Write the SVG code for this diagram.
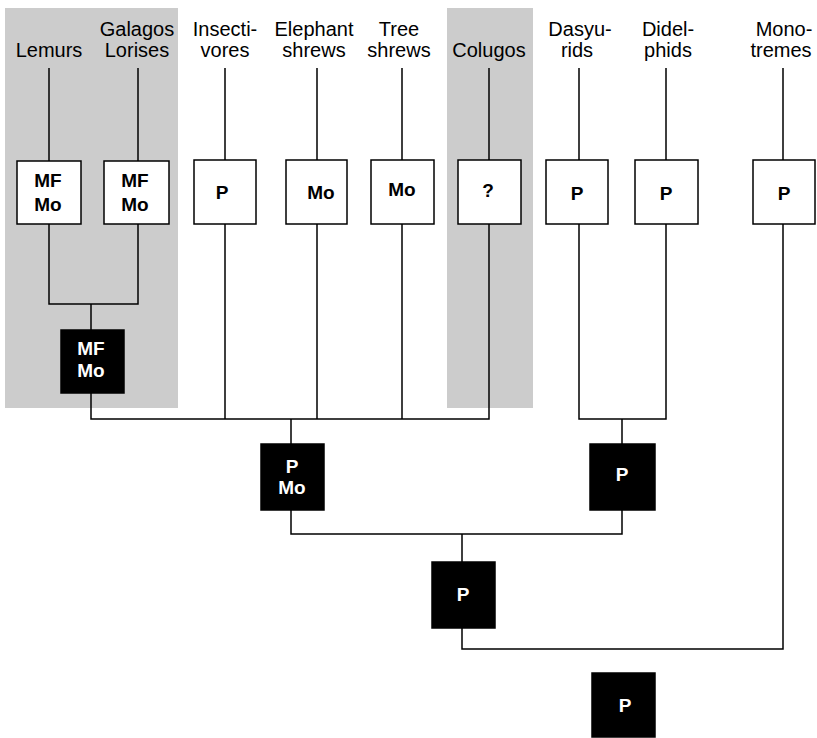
<svg xmlns="http://www.w3.org/2000/svg" width="817" height="738" viewBox="0 0 817 738">
<style>
.bg{fill:#cccccc}
.lbl{font-family:"Liberation Sans",Arial,sans-serif;font-size:20px;fill:#000;text-anchor:middle}
.wb{fill:#fff;stroke:#000;stroke-width:1.5}
.bb{fill:#000;stroke:#000;stroke-width:1.5}
.wt{font-family:"Liberation Sans",Arial,sans-serif;font-size:19px;font-weight:bold;fill:#000;text-anchor:middle}
.bt{font-family:"Liberation Sans",Arial,sans-serif;font-size:19px;font-weight:bold;fill:#fff;text-anchor:middle}
.ln{fill:none;stroke:#000;stroke-width:1.5}
</style>
<rect class="bg" x="5" y="8" width="173" height="400"/>
<rect class="bg" x="447" y="8" width="86" height="400"/>
<g id="connectors">
<path class="ln" d="M49,68V161 M138,68V161 M225,68V160 M317,68V160 M402,68V160 M489,68V160 M579,68V160 M666,68V160 M783,68V160"/>
<path class="ln" d="M49,224V304H138V224 M91,304V330"/>
<path class="ln" d="M91,393V419H489V224 M225,224V419 M317,224V419 M402,224V419 M291,419V444"/>
<path class="ln" d="M579,224V419H666V224 M622,419V444"/>
<path class="ln" d="M291,510V534H622V510 M462,534V562"/>
<path class="ln" d="M462,628V649H783V224"/>
</g>
<g id="lemurs"><text class="lbl" x="49" y="57">Lemurs</text><rect class="wb" x="17" y="161" width="64" height="63"/><text class="wt" x="48" y="187">MF</text><text class="wt" x="48" y="211">Mo</text></g>
<g id="galagos"><text class="lbl" x="137" y="36">Galagos</text><text class="lbl" x="137" y="57">Lorises</text><rect class="wb" x="104" y="161" width="65" height="63"/><text class="wt" x="135" y="187">MF</text><text class="wt" x="135" y="211">Mo</text></g>
<g id="insectivores"><text class="lbl" x="225" y="36">Insecti-</text><text class="lbl" x="225" y="57">vores</text><rect class="wb" x="194" y="160" width="62" height="64"/><text class="wt" x="222" y="199">P</text></g>
<g id="elephant"><text class="lbl" x="314" y="36">Elephant</text><text class="lbl" x="314" y="57">shrews</text><rect class="wb" x="286" y="160" width="61" height="64"/><text class="wt" x="321" y="199">Mo</text></g>
<g id="tree"><text class="lbl" x="399" y="36">Tree</text><text class="lbl" x="399" y="57">shrews</text><rect class="wb" x="371" y="160" width="63" height="64"/><text class="wt" x="402" y="196">Mo</text></g>
<g id="colugos"><text class="lbl" x="489" y="57">Colugos</text><rect class="wb" x="458" y="160" width="63" height="64"/><text class="wt" x="488" y="197">?</text></g>
<g id="dasyurids"><text class="lbl" x="580" y="36">Dasyu-</text><text class="lbl" x="577" y="57">rids</text><rect class="wb" x="546" y="160" width="62" height="64"/><text class="wt" x="577" y="200">P</text></g>
<g id="didelphids"><text class="lbl" x="668" y="36">Didel-</text><text class="lbl" x="668" y="57">phids</text><rect class="wb" x="635" y="160" width="63" height="64"/><text class="wt" x="666" y="200">P</text></g>
<g id="monotremes"><text class="lbl" x="784" y="36">Mono-</text><text class="lbl" x="781" y="57">tremes</text><rect class="wb" x="753" y="160" width="62" height="64"/><text class="wt" x="784" y="200">P</text></g>
<g id="anc-primates"><rect class="bb" x="61" y="330" width="63" height="63"/><text class="bt" x="91" y="355">MF</text><text class="bt" x="91" y="377">Mo</text></g>
<g id="anc-eutheria"><rect class="bb" x="261" y="444" width="63" height="66"/><text class="bt" x="292" y="473">P</text><text class="bt" x="292" y="494">Mo</text></g>
<g id="anc-marsupials"><rect class="bb" x="590" y="444" width="65" height="66"/><text class="bt" x="622" y="481">P</text></g>
<g id="anc-theria"><rect class="bb" x="432" y="562" width="63" height="66"/><text class="bt" x="463" y="601">P</text></g>
<g id="anc-mammals"><rect class="bb" x="592" y="673" width="63" height="64"/><text class="bt" x="625" y="712">P</text></g>
</svg>
